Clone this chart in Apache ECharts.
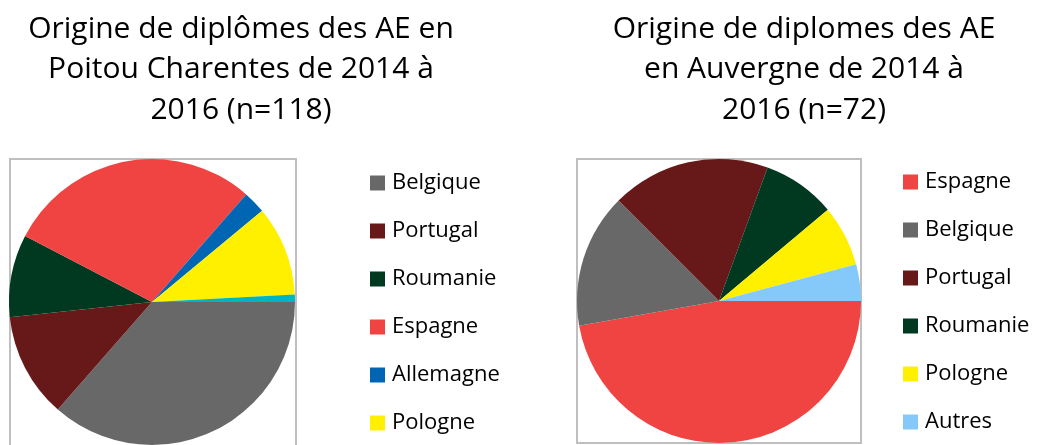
<!DOCTYPE html>
<html>
<head>
<meta charset="utf-8">
<script src="https://cdn.jsdelivr.net/npm/echarts@6/dist/echarts.min.js"></script>
<style>
  html, body { margin: 0; padding: 0; background: #fff; }
  #chart { width: 1037px; height: 445px; }
</style>
</head>
<body>
<div id="chart"></div>
<script>
// Poitou Charentes (n=118)
var pcNames = ['Belgique', 'Portugal', 'Roumanie', 'Espagne', 'Allemagne', 'Pologne', 'Autres'];
var pcValues = [43, 14, 11, 34, 3, 12, 1];
var pcColors = ['#686868', '#671818', '#003820', '#ef4442', '#0066b3', '#fff000', '#00b4c2'];

// Auvergne (n=72)
var auNames = ['Espagne', 'Belgique', 'Portugal', 'Roumanie', 'Pologne', 'Autres'];
var auValues = [34, 11, 13, 6, 5, 3];
var auColors = ['#ef4442', '#686868', '#671818', '#003820', '#fff000', '#85c9fb'];

var font = 'Open Sans';

function pieData(names, values, colors) {
  return names.map(function (n, i) {
    return { name: n, value: values[i], itemStyle: { color: colors[i] } };
  });
}

var chart = echarts.init(document.getElementById('chart'));
var option = {
  animation: false,
  title: [{
    text: 'Origine de diplômes des AE en\nPoitou Charentes de 2014 à\n2016 (n=118)',
    left: 236, top: 4, textAlign: 'center',
    textStyle: { fontFamily: font, fontSize: 30, fontWeight: 'normal', color: '#000', lineHeight: 40.5, align: 'center' }
  }, {
    text: 'Origine de diplomes des AE\nen Auvergne de 2014 à\n2016 (n=72)',
    left: 799, top: 4, textAlign: 'center',
    textStyle: { fontFamily: font, fontSize: 30, fontWeight: 'normal', color: '#000', lineHeight: 40.5, align: 'center' }
  }],
  legend: [{
    orient: 'vertical', left: 370, top: 172, padding: 0,
    itemWidth: 15, itemHeight: 15, itemGap: 26,
    icon: 'rect', selectedMode: false,
    data: pcNames.slice(0, 6),
    textStyle: { fontFamily: font, fontSize: 22, color: '#000', padding: [0, 0, 0, 2] }
  }, {
    orient: 'vertical', left: 903, top: 171, padding: 0,
    itemWidth: 15, itemHeight: 15, itemGap: 26,
    icon: 'rect', selectedMode: false,
    data: auNames.map(function (n, i) { return { name: n, itemStyle: { color: auColors[i] } }; }),
    textStyle: { fontFamily: font, fontSize: 22, color: '#000', padding: [0, 0, 0, 2] }
  }],
  graphic: [{
    type: 'rect', shape: { x: 10, y: 159, width: 286, height: 300 },
    style: { fill: 'none', stroke: '#bfbfbf', lineWidth: 2 }, z: 0
  }, {
    type: 'rect', shape: { x: 577, y: 159, width: 284, height: 284 },
    style: { fill: 'none', stroke: '#bfbfbf', lineWidth: 2 }, z: 0
  }],
  series: [{
    type: 'pie', center: [152, 302], radius: 143,
    startAngle: 0, clockwise: true,
    label: { show: false }, labelLine: { show: false },
    emphasis: { disabled: true },
    itemStyle: { borderWidth: 0 },
    data: pieData(pcNames, pcValues, pcColors)
  }, {
    type: 'pie', center: [719, 301], radius: 142,
    startAngle: 0, clockwise: true,
    label: { show: false }, labelLine: { show: false },
    emphasis: { disabled: true },
    itemStyle: { borderWidth: 0 },
    data: pieData(auNames, auValues, auColors)
  }]
};
chart.setOption(option);
</script>
</body>
</html>
